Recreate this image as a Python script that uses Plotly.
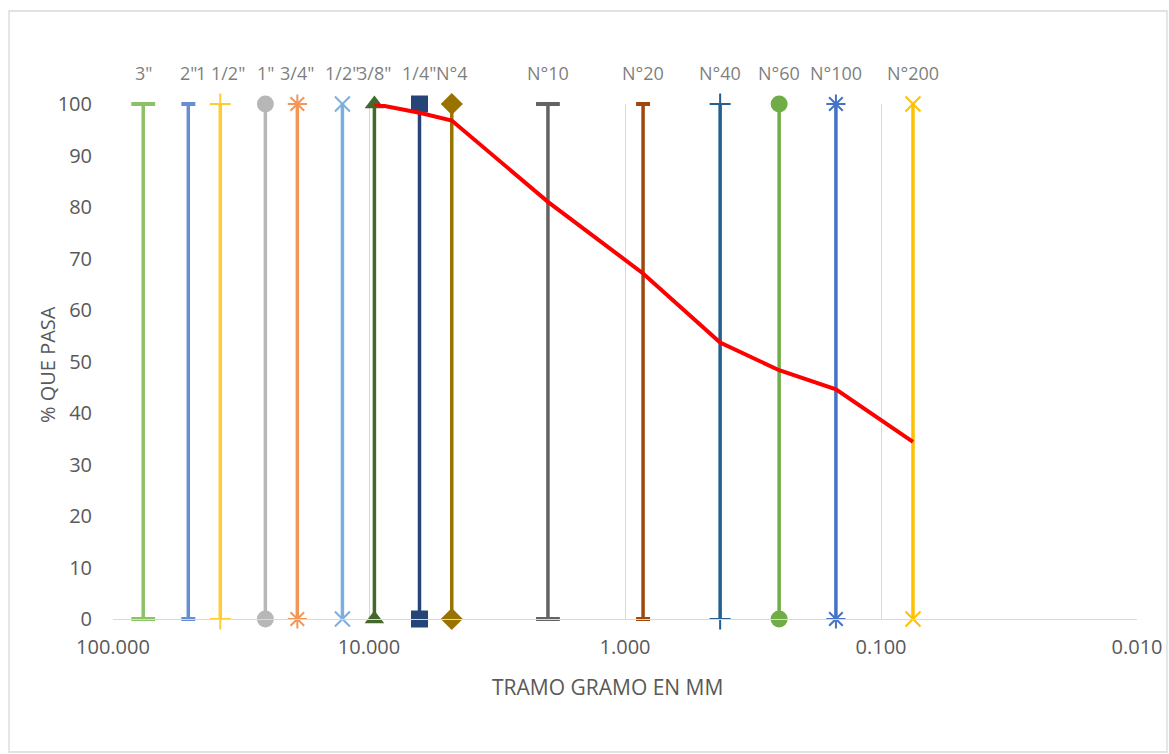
import math
import plotly.graph_objects as go

# ---- data ----
sieve_labels = ['3"', '2"', '1 1/2"', '1"', '3/4"', '1/2"', '3/8"', '1/4"',
                'N°4', 'N°10', 'N°20', 'N°40', 'N°60', 'N°100', 'N°200']
sieve_mm = [76.2, 50.8, 38.1, 25.4, 19.05, 12.7, 9.525, 6.35,
            4.75, 2.0, 0.85, 0.425, 0.25, 0.15, 0.075]
sieve_low = [0] * 15
sieve_high = [100] * 15

curve_mm = [9.525, 6.35, 4.75, 2.0, 0.85, 0.425, 0.25, 0.15, 0.075]
curve_pct = [100, 98.3, 96.8, 81.0, 67.1, 53.7, 48.3, 44.6, 34.4]

x_tickvals = [100, 10, 1, 0.1, 0.01]
x_ticktext = ['100.000', '10.000', '1.000', '0.100', '0.010']
y_tickvals = [0, 10, 20, 30, 40, 50, 60, 70, 80, 90, 100]

# ---- styles ----
colors = ['#8cc168', '#698ed0', '#ffcd33', '#b7b7b7', '#f1975a', '#7cafdd',
          '#43682b', '#264478', '#997300', '#636363', '#9e480e', '#255e91',
          '#70ad47', '#4472c4', '#ffc000']
symbols = ['line-ew', 'line-ew', 'cross-thin', 'circle', 'asterisk-open', 'x-thin',
           'triangle-up', 'square', 'diamond', 'line-ew', 'line-ew', 'cross-thin',
           'circle', 'asterisk-open', 'x-thin']
sizes = [17, 10, 15, 17, 16, 15, 17, 17, 17, 17, 10, 15, 17, 16, 15]
mlw = [4, 4, 2, 0, 2, 2, 0, 0, 0, 4, 4, 2, 0, 2, 2]

FONT = 'Open Sans'
fig = go.Figure()

for i, (lab, mm) in enumerate(zip(sieve_labels, sieve_mm)):
    fig.add_trace(go.Scatter(
        x=[mm, mm], y=[sieve_low[i], sieve_high[i]], mode='lines+markers',
        name=lab, cliponaxis=False,
        line=dict(color=colors[i], width=3.5),
        marker=dict(symbol=symbols[i], size=sizes[i], color=colors[i],
                    line=dict(color=colors[i], width=mlw[i])),
        showlegend=False))
    fig.add_annotation(x=math.log10(mm), y=sieve_high[i], xref='x', yref='y',
                       text=lab, showarrow=False, yshift=31,
                       font=dict(family=FONT, size=18, color='#7f7f7f'))

fig.add_trace(go.Scatter(x=curve_mm, y=curve_pct, mode='lines', cliponaxis=False,
                         line=dict(color='#ff0000', width=4), showlegend=False))

L, R, T, B = 113, 32, 104, 135
W, H = 1169, 754
pw, ph = W - L - R, H - T - B

def px(xp):
    return (xp - L) / pw

def py(yp):
    return (H - B - yp) / ph

fig.add_shape(type='rect', xref='paper', yref='paper',
              x0=px(9), x1=px(1167), y0=py(752), y1=py(11),
              line=dict(color='#d9d9d9', width=1.3), layer='below')

fig.add_annotation(xref='paper', yref='paper', x=px(607), y=py(687),
                   xanchor='center', yanchor='middle',
                   text='TRAMO GRAMO EN MM', showarrow=False,
                   font=dict(family=FONT, size=21, color='#595959'))
fig.add_annotation(xref='paper', yref='paper', x=px(47), y=py(365),
                   xanchor='center', yanchor='middle', textangle=-90,
                   text='% QUE PASA', showarrow=False,
                   font=dict(family=FONT, size=20, color='#595959'))

fig.update_layout(
    width=W, height=H, margin=dict(l=L, r=R, t=T, b=B, autoexpand=False),
    paper_bgcolor='white', plot_bgcolor='white',
    font=dict(family=FONT, color='#595959'),
    xaxis=dict(type='log', range=[2, -2], tickvals=x_tickvals, ticktext=x_ticktext,
               automargin=False,
               showgrid=True, gridcolor='#d9d9d9', gridwidth=1,
               showline=True, linecolor='#d9d9d9', linewidth=1,
               zeroline=False, ticks='', ticklabelstandoff=10,
               tickfont=dict(family=FONT, size=20, color='#595959')),
    yaxis=dict(range=[0, 100], tickvals=y_tickvals, showgrid=False, zeroline=False,
               automargin=False,
               showline=False, ticks='', ticklabelstandoff=20,
               tickfont=dict(family=FONT, size=20, color='#595959')),
)

fig.write_html('out.html',
               config={'displayModeBar': False, 'responsive': False},
               post_script=("document.documentElement.style.overflow='hidden';"
                            "document.body.style.overflow='hidden';"
                            "document.body.style.margin='0';"
                            "document.body.style.padding='0';"))
